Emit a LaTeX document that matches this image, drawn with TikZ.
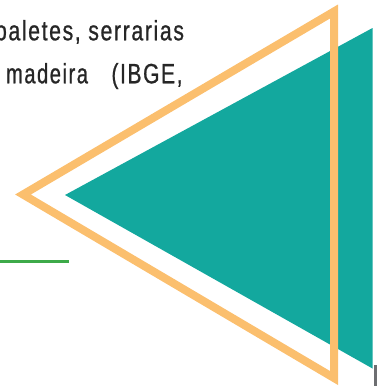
\documentclass[tikz,border=0pt]{standalone}
\usepackage{fontspec}
\newfontfamily\condfont{Liberation Sans}[FakeStretch=0.66,LetterSpace=5,FakeBold=0.7]
\definecolor{txtgray}{HTML}{262626}
\definecolor{orangeT}{HTML}{FBBF6E}
\definecolor{tealT}{HTML}{13A89E}
\definecolor{greenL}{HTML}{3DAA49}
\definecolor{barGray}{HTML}{6D6E71}
\tikzset{
  bodytext/.style={inner sep=0pt, outer sep=0pt, text=txtgray, font=\condfont\fontsize{28}{30}\selectfont},
  outline/.style={draw=orangeT, line width=8pt, miter limit=10, line join=miter},
  solidtri/.style={fill=tealT, draw=none},
  rule/.style={draw=greenL, line width=2.7pt},
}
\begin{document}
\begin{tikzpicture}[x=1pt,y=-1pt]
\useasboundingbox (0,0) rectangle (382,386);
\begin{scope}
\clip (0,0) rectangle (382,386);
% teal triangle
\coordinate (tl) at (65,195);
\coordinate (tt) at (372.5,28);
\coordinate (tb) at (372.5,368.5);
\fill[solidtri] (tl) -- (tt) -- (tb) -- cycle;
% gray bar
\fill[barGray] (373.5,365) rectangle (376.5,386);
% orange outline triangle
\coordinate (ol) at (23,194.5);
\coordinate (ot) at (334,11.5);
\coordinate (ob) at (334,378);
\draw[outline] (ol) -- (ot) -- (ob) -- cycle;
% green rule
\coordinate (ga) at (-2,261.3);
\coordinate (gb) at (69,261.3);
\draw[rule] (ga) -- (gb);
% text
\node[bodytext, anchor=base east] (t1) at (184,40.3) {\resizebox{189pt}{\height}{paletes, serrarias}};
\node[bodytext, anchor=base west] (t2a) at (6,83.3) {\resizebox{82pt}{\height}{madeira}};
\node[bodytext, anchor=base west] (t2b) at (111.5,83.3) {\resizebox{71pt}{\height}{(IBGE,}};
\end{scope}
\end{tikzpicture}
\end{document}
